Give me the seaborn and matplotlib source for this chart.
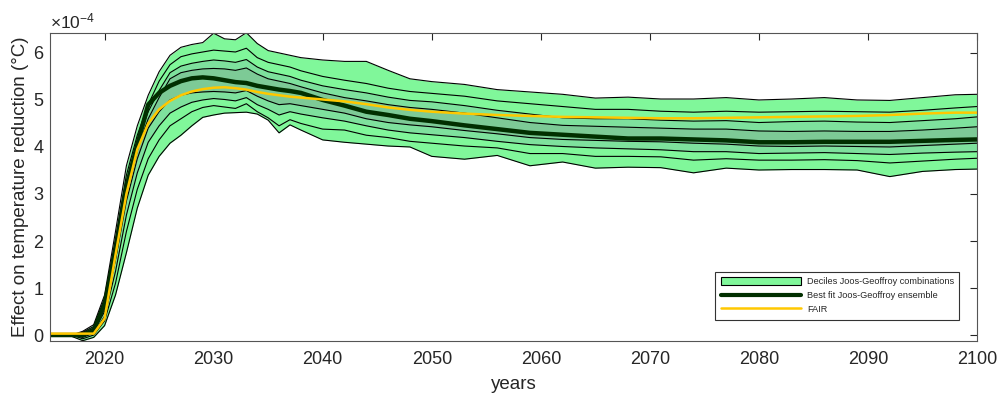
import numpy as np
import pandas as pd
import matplotlib
matplotlib.use("Agg")
import matplotlib.pyplot as plt
import seaborn as sns
from matplotlib.patches import Patch
from matplotlib.lines import Line2D
from matplotlib.ticker import ScalarFormatter

# ---------------- data (values in units of 1e-4 degC) ----------------
years = [2015, 2016, 2017, 2018, 2019, 2020, 2021, 2022, 2023, 2024, 2025, 2026,
         2027, 2028, 2029, 2030, 2031, 2032, 2033, 2034, 2035, 2036, 2037, 2038,
         2040, 2042, 2044, 2046, 2048, 2050, 2053, 2056, 2059, 2062, 2065, 2068,
         2071, 2074, 2077, 2080, 2083, 2086, 2089, 2092, 2095, 2098, 2100]

d90 = [0, 0, 0, 0.08, 0.22, 0.85, 2.2, 3.6, 4.45, 5.1, 5.6, 5.95, 6.12, 6.18, 6.22, 6.42,
       6.3, 6.28, 6.43, 6.2, 6.05, 6.0, 5.95, 5.9,
       5.85, 5.82, 5.82, 5.63, 5.45, 5.39, 5.33, 5.22, 5.17, 5.12, 5.04, 5.06, 5.02, 5.02,
       5.05, 5.0, 5.02, 5.05, 5.0, 4.99, 5.05, 5.11, 5.12]
d80 = [0, 0, 0, 0.06, 0.18, 0.78, 2.05, 3.4, 4.25, 4.9, 5.4, 5.75, 5.92, 5.98, 6.02, 6.06,
       6.04, 6.02, 6.1, 5.9, 5.8, 5.75, 5.7, 5.62,
       5.5, 5.42, 5.35, 5.25, 5.18, 5.14, 5.08, 4.98, 4.92, 4.86, 4.8, 4.8, 4.76, 4.74,
       4.76, 4.74, 4.75, 4.76, 4.75, 4.74, 4.78, 4.83, 4.86]
d70 = [0, 0, 0, 0.04, 0.15, 0.72, 1.95, 3.25, 4.1, 4.75, 5.2, 5.58, 5.72, 5.78, 5.82, 5.85,
       5.83, 5.8, 5.86, 5.7, 5.6, 5.55, 5.5, 5.42,
       5.3, 5.22, 5.15, 5.06, 4.99, 4.96, 4.88, 4.78, 4.7, 4.62, 4.6, 4.6, 4.57, 4.55,
       4.56, 4.52, 4.54, 4.55, 4.53, 4.52, 4.56, 4.6, 4.64]
d60 = [0, 0, 0, 0.02, 0.12, 0.66, 1.85, 3.1, 3.95, 4.6, 5.05, 5.45, 5.58, 5.63, 5.66, 5.67,
       5.66, 5.63, 5.68, 5.55, 5.45, 5.4, 5.35, 5.28,
       5.15, 5.05, 4.98, 4.9, 4.84, 4.8, 4.72, 4.62, 4.52, 4.46, 4.44, 4.42, 4.4, 4.38,
       4.38, 4.34, 4.33, 4.34, 4.33, 4.33, 4.36, 4.4, 4.43]
d40 = [0, 0, 0, -0.02, 0.08, 0.5, 1.6, 2.85, 3.75, 4.4, 4.75, 5.0, 5.1, 5.15, 5.17, 5.18,
       5.17, 5.15, 5.2, 5.08, 4.98, 4.9, 4.92, 4.88,
       4.8, 4.72, 4.6, 4.52, 4.47, 4.43, 4.35, 4.28, 4.2, 4.16, 4.14, 4.12, 4.11, 4.08,
       4.06, 4.02, 4.01, 4.02, 4.01, 4.0, 4.03, 4.06, 4.08]
d30 = [0, 0, 0, -0.05, 0.04, 0.4, 1.35, 2.55, 3.45, 4.1, 4.45, 4.72, 4.85, 4.95, 5.0, 5.03,
       5.01, 4.98, 5.05, 4.9, 4.8, 4.68, 4.75, 4.7,
       4.62, 4.55, 4.45, 4.36, 4.3, 4.26, 4.2, 4.12, 4.05, 4.01, 3.98, 3.96, 3.94, 3.9,
       3.9, 3.86, 3.87, 3.88, 3.86, 3.84, 3.87, 3.89, 3.9]
d20 = [0, 0, 0, -0.08, 0.0, 0.3, 1.1, 2.2, 3.1, 3.75, 4.15, 4.45, 4.6, 4.75, 4.84, 4.88,
       4.85, 4.82, 4.92, 4.75, 4.62, 4.45, 4.58, 4.5,
       4.38, 4.36, 4.25, 4.2, 4.12, 4.08, 4.02, 3.98, 3.86, 3.86, 3.8, 3.8, 3.79, 3.72,
       3.75, 3.72, 3.72, 3.73, 3.71, 3.66, 3.7, 3.74, 3.76]
d10 = [0, 0, -0.03, -0.12, -0.05, 0.2, 0.85, 1.75, 2.7, 3.4, 3.8, 4.08, 4.25, 4.45, 4.63, 4.68,
       4.72, 4.73, 4.74, 4.7, 4.57, 4.3, 4.47, 4.36,
       4.15, 4.1, 4.06, 4.02, 4.0, 3.8, 3.74, 3.82, 3.6, 3.68, 3.55, 3.57, 3.56, 3.45,
       3.55, 3.51, 3.52, 3.52, 3.51, 3.37, 3.48, 3.52, 3.53]
best_fit = [0, 0, 0, 0, 0.1, 0.65, 1.8, 3.15, 4.05, 4.9, 5.15, 5.3, 5.4, 5.46, 5.48, 5.46,
            5.42, 5.38, 5.36, 5.3, 5.26, 5.22, 5.19, 5.15,
            5.0, 4.88, 4.75, 4.68, 4.6, 4.55, 4.46, 4.38, 4.3, 4.26, 4.22, 4.18, 4.18, 4.16,
            4.14, 4.1, 4.1, 4.11, 4.11, 4.11, 4.13, 4.15, 4.16]
fair = [0.03, 0.03, 0.03, 0.03, 0.03, 0.35, 1.7, 3.0, 3.95, 4.5, 4.8, 4.98, 5.1, 5.18, 5.23, 5.26,
        5.27, 5.25, 5.22, 5.17, 5.13, 5.1, 5.07, 5.05,
        5.01, 4.97, 4.91, 4.84, 4.79, 4.75, 4.71, 4.68, 4.66, 4.64, 4.63, 4.62, 4.61, 4.61,
        4.62, 4.63, 4.64, 4.65, 4.66, 4.68, 4.71, 4.73, 4.73]

x_ticks = [2020, 2030, 2040, 2050, 2060, 2070, 2080, 2090, 2100]
y_ticks = [0, 1, 2, 3, 4, 5, 6]
legend_labels = ["Deciles Joos-Geoffroy combinations",
                 "Best fit Joos-Geoffroy ensemble", "FAIR"]
SCALE = 1e-4

# ---------------- styling ----------------
sns.set_theme(style="white")
plt.rcParams["font.family"] = ["Liberation Sans", "DejaVu Sans"]
plt.rcParams["mathtext.fontset"] = "custom"
plt.rcParams["mathtext.rm"] = "Liberation Sans"

LIGHT = "#80F79A"
MID = "#7EE19D"
DARK = "#7DCA96"
BEST = "#012F00"
FAIRC = "#FFC800"
TXT = "#262626"

fig = plt.figure(figsize=(10.05, 3.99), dpi=100)
ax = fig.add_axes([0.0498, 0.145, 0.9224, 0.773])

sc = lambda a: np.asarray(a, dtype=float) * SCALE
x = np.asarray(years)

ax.fill_between(x, sc(d10), sc(d90), color=LIGHT, lw=0)
ax.fill_between(x, sc(d30), sc(d70), color=MID, lw=0)
ax.fill_between(x, sc(d40), sc(d60), color=DARK, lw=0)

df = pd.DataFrame({"year": years})
for name, arr in [("d10", d10), ("d20", d20), ("d30", d30), ("d40", d40),
                  ("d60", d60), ("d70", d70), ("d80", d80), ("d90", d90)]:
    df[name] = sc(arr)
    sns.lineplot(data=df, x="year", y=name, ax=ax, color="black", lw=0.8)
df["best"] = sc(best_fit)
df["fair"] = sc(fair)
sns.lineplot(data=df, x="year", y="best", ax=ax, color=BEST, lw=3.2)
sns.lineplot(data=df, x="year", y="fair", ax=ax, color=FAIRC, lw=1.8)

ax.set_xlim(2015, 2100)
ax.set_ylim(-0.13e-4, 6.43e-4)
ax.set_xticks(x_ticks)
ax.set_yticks([v * SCALE for v in y_ticks])
fmt = ScalarFormatter(useMathText=True)
fmt.set_powerlimits((-3, 3))
ax.yaxis.set_major_formatter(fmt)
ax.yaxis.get_offset_text().set_fontsize(12.5)
ax.yaxis.get_offset_text().set_color(TXT)

ax.tick_params(direction="in", top=True, right=True, length=5, width=0.8,
               labelsize=13, colors=TXT, labelcolor=TXT, pad=4)
ax.tick_params(axis="x", pad=7)
for s in ax.spines.values():
    s.set_color("#555555")
    s.set_linewidth(0.8)

ax.set_xlabel("years", fontsize=13.5, color=TXT, labelpad=6)
ax.set_ylabel("Effect on temperature reduction (°C)", fontsize=13.5, color=TXT, labelpad=3)

handles = [Patch(facecolor=LIGHT, edgecolor="black", lw=0.8),
           Line2D([], [], color=BEST, lw=3.0),
           Line2D([], [], color=FAIRC, lw=1.8)]
leg = ax.legend(handles, legend_labels, loc="lower right", bbox_to_anchor=(0.986, 0.055),
                fontsize=6.6, handlelength=8.8, handleheight=1.0, frameon=True, fancybox=False,
                borderpad=0.6, labelspacing=0.5, handletextpad=0.6)
leg.get_frame().set_edgecolor("#333333")
leg.get_frame().set_linewidth(0.8)
leg.get_frame().set_alpha(1)

fig.savefig("out.png", dpi=100)
